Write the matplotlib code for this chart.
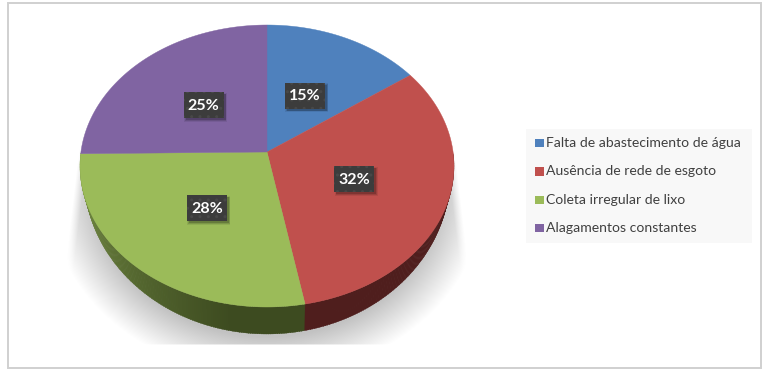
import numpy as np
import matplotlib
matplotlib.use("Agg")
import matplotlib.pyplot as plt
from matplotlib.colors import to_rgb
from matplotlib.patches import Polygon, Rectangle

categories = ["Falta de abastecimento de água", "Ausência de rede de esgoto",
              "Coleta irregular de lixo", "Alagamentos constantes"]
values = [15, 32, 28, 25]
top_colors = ["#4f81bd", "#c0504d", "#9bbb59", "#8064a2"]
side_light = ["#2f4d71", "#4f1e1d", "#7a9448", "#4c3b61"]
side_dark = ["#2f4d71", "#4f1e1d", "#3d4b20", "#4c3b61"]
label_nudge = [(-3, -2), (4, 0), (-3, -1), (0, -3.5)]
W, H = 768, 373
cx, apex_y, rx = 267, 152, 187      # apex of the slices sits above the ellipse centre
ell_cy, ell_ry = 166, 141
low_cy, low_rx, low_ry = 175, 183, 159


def warp(theta):
    # perspective: the apex is not the centre of the projected disc
    return theta - np.radians(5) * np.sin(theta)


def surface(theta):
    t = warp(theta)
    return cx + rx * np.sin(t), ell_cy - ell_ry * np.cos(t)


def lower(theta):
    t = warp(theta)
    return cx + low_rx * np.sin(t), low_cy - low_ry * np.cos(t)


fig = plt.figure(figsize=(W / 100, H / 100), dpi=100)
ax = fig.add_axes([0, 0, 1, 1])

# chart frame
ax.add_patch(Rectangle((8, 3), 753, 365, fc="white", ec="#d0d0d0", lw=1.4, zorder=0))

# soft shadow under the pie
yy, xx = np.mgrid[120:350, 50:490] + 0.5
d = np.hypot((xx - 267) / 205, (yy - 190) / 175)
shade = np.clip((1.07 - d) / 0.23, 0, 1)
shade *= np.clip((xx - (80 - (yy - 140) * 0.12)) / 9, 0, 1)
shade *= np.clip(((455 + (yy - 150) * 0.12) - xx) / 9, 0, 1)
shade *= np.clip((345.5 - yy) / 2, 0, 1)
shade *= np.clip((yy - 130) / 40, 0, 1)
rgba = np.zeros(shade.shape + (4,))
rgba[..., 3] = shade * 0.24
ax.imshow(rgba, extent=(50, 490, 350, 120), zorder=1, aspect="auto", interpolation="bilinear")
ax.set_xlim(0, W)
ax.set_ylim(H, 0)
ax.axis("off")

# slices
fr = np.cumsum([0] + values) / sum(values) * 2 * np.pi
for i, v in enumerate(values):
    a, b = fr[i], fr[i + 1]
    lo, hi = max(a, np.pi / 2), min(b, 3 * np.pi / 2)
    if hi > lo:
        t = np.linspace(lo, hi, max(int((hi - lo) * 90), 2))
        c0, c1 = np.array(to_rgb(side_light[i])), np.array(to_rgb(side_dark[i]))
        for j in range(len(t) - 1):
            q = np.array([t[j], t[j + 1] + 0.004])
            ux, uy = surface(q)
            dx, dy = lower(q)
            f = np.clip((3 * np.pi / 2 - t[j]) / (3 * np.pi / 2 - np.radians(190)), 0, 1) if i == 2 else 0
            col = c0 + (c1 - c0) * f
            ax.add_patch(Polygon(np.c_[np.r_[ux, dx[::-1]], np.r_[uy, dy[::-1]]],
                                 closed=True, fc=col, ec=col, lw=0.2, zorder=2))
    t = np.linspace(a, b, 200)
    x, y = surface(t)
    ax.add_patch(Polygon(np.c_[np.r_[cx, x], np.r_[apex_y, y]], closed=True,
                         fc=top_colors[i], ec=top_colors[i], lw=0.3, zorder=3))

# data labels
for i, v in enumerate(values):
    m = (fr[i] + fr[i + 1]) / 2
    lx = cx + rx * np.sin(m) * 0.48 + label_nudge[i][0]
    ly = apex_y - (127 if np.cos(m) > 0 else 155) * np.cos(m) * 0.48 + label_nudge[i][1]
    for grow, alpha in ((3, 0.08), (1.5, 0.12), (0, 0.18)):
        ax.add_patch(Rectangle((lx - 20 + 2 - grow / 2, ly - 13 + 2 - grow / 2), 40 + grow, 26 + grow,
                               fc="black", alpha=alpha, ec="none", zorder=4))
    ax.add_patch(Rectangle((lx - 20, ly - 13), 40, 26, fc="#3c3c3c", ec="#484848", lw=0,
                           hatch="..", zorder=5))
    ax.text(lx, ly + 0.5, f"{v}%", color="white", fontsize=11.5, fontweight="bold",
            family="Lato", ha="center", va="center", zorder=6)

# legend
ax.add_patch(Rectangle((526, 129), 226, 114, fc="#f8f8f8", ec="none", zorder=1))
for i, name in enumerate(categories):
    ly = 143 + i * 28.4
    ax.add_patch(Rectangle((534.5, ly - 4.3), 9, 8.6, fc=top_colors[i], ec="none", zorder=2))
    ax.text(546, ly, name, color="#404040", fontsize=10.1, family="Lato",
            ha="left", va="center", zorder=2)

fig.savefig("out.png", dpi=100)
